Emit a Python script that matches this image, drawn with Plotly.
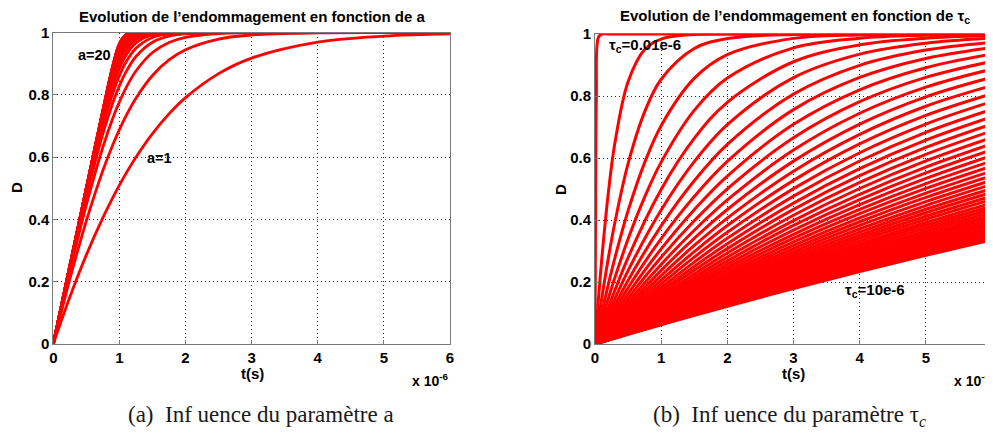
import plotly.graph_objects as go

# ---------------- Panel (a): influence of parameter a (a = 1 ... 20) ----------------
t_a = [0, 0.25, 0.5, 0.75, 0.9, 1.0, 1.1, 1.25, 1.5, 1.75, 2, 2.5, 3, 4, 5, 6]

D_a01 = [0, 0.1506, 0.2860, 0.4057, 0.4702, 0.5101, 0.5477, 0.5997, 0.6754, 0.7387, 0.7909, 0.8681, 0.9179, 0.9690, 0.9885, 0.9958]
D_a02 = [0, 0.2079, 0.3954, 0.5570, 0.6396, 0.6884, 0.7324, 0.7892, 0.8619, 0.9118, 0.9447, 0.9789, 0.9921, 0.9989, 0.9999, 1.0]
D_a03 = [0, 0.2320, 0.4467, 0.6325, 0.7249, 0.7773, 0.8224, 0.8764, 0.9359, 0.9682, 0.9846, 0.9965, 0.9992, 1.0, 1.0, 1.0]
D_a04 = [0, 0.2422, 0.4723, 0.6751, 0.7745, 0.8290, 0.8736, 0.9229, 0.9688, 0.9881, 0.9955, 0.9994, 1.0, 1.0, 1.0, 1.0]
D_a05 = [0, 0.2460, 0.4842, 0.6996, 0.8052, 0.8614, 0.9052, 0.9496, 0.9842, 0.9954, 0.9987, 0.9999, 1.0, 1.0, 1.0, 1.0]
D_a06 = [0, 0.2482, 0.4919, 0.7164, 0.8271, 0.8845, 0.9271, 0.9664, 0.9919, 0.9982, 0.9996, 1.0, 1.0, 1.0, 1.0, 1.0]
D_a07 = [0, 0.2493, 0.4958, 0.7271, 0.8424, 0.9010, 0.9424, 0.9771, 0.9958, 0.9993, 1.0, 1.0, 1.0, 1.0, 1.0, 1.0]
D_a08 = [0, 0.2497, 0.4977, 0.7341, 0.8536, 0.9134, 0.9536, 0.9841, 0.9977, 0.9997, 1.0, 1.0, 1.0, 1.0, 1.0, 1.0]
D_a09 = [0, 0.2499, 0.4988, 0.7389, 0.8621, 0.9230, 0.9621, 0.9889, 0.9988, 0.9999, 1.0, 1.0, 1.0, 1.0, 1.0, 1.0]
D_a10 = [0, 0.2499, 0.4993, 0.7421, 0.8687, 0.9307, 0.9687, 0.9921, 0.9993, 1.0, 1.0, 1.0, 1.0, 1.0, 1.0, 1.0]
D_a11 = [0, 0.2500, 0.4996, 0.7444, 0.8739, 0.9370, 0.9739, 0.9944, 0.9996, 1.0, 1.0, 1.0, 1.0, 1.0, 1.0, 1.0]
D_a12 = [0, 0.2500, 0.4998, 0.7459, 0.8781, 0.9422, 0.9781, 0.9959, 0.9998, 1.0, 1.0, 1.0, 1.0, 1.0, 1.0, 1.0]
D_a13 = [0, 0.2500, 0.4999, 0.7471, 0.8815, 0.9467, 0.9815, 0.9971, 0.9999, 1.0, 1.0, 1.0, 1.0, 1.0, 1.0, 1.0]
D_a14 = [0, 0.2500, 0.4999, 0.7479, 0.8843, 0.9505, 0.9843, 0.9979, 1.0, 1.0, 1.0, 1.0, 1.0, 1.0, 1.0, 1.0]
D_a15 = [0, 0.2500, 0.5000, 0.7485, 0.8866, 0.9538, 0.9866, 0.9985, 1.0, 1.0, 1.0, 1.0, 1.0, 1.0, 1.0, 1.0]
D_a16 = [0, 0.2500, 0.5000, 0.7489, 0.8885, 0.9567, 0.9885, 0.9989, 1.0, 1.0, 1.0, 1.0, 1.0, 1.0, 1.0, 1.0]
D_a17 = [0, 0.2500, 0.5000, 0.7492, 0.8901, 0.9592, 0.9901, 0.9992, 1.0, 1.0, 1.0, 1.0, 1.0, 1.0, 1.0, 1.0]
D_a18 = [0, 0.2500, 0.5000, 0.7494, 0.8915, 0.9615, 0.9915, 0.9994, 1.0, 1.0, 1.0, 1.0, 1.0, 1.0, 1.0, 1.0]
D_a19 = [0, 0.2500, 0.5000, 0.7495, 0.8927, 0.9635, 0.9927, 0.9996, 1.0, 1.0, 1.0, 1.0, 1.0, 1.0, 1.0, 1.0]
D_a20 = [0, 0.2500, 0.5000, 0.7497, 0.8937, 0.9653, 0.9937, 0.9998, 1.0, 1.0, 1.0, 1.0, 1.0, 1.0, 1.0, 1.0]

curves_a = [D_a01, D_a02, D_a03, D_a04, D_a05, D_a06, D_a07, D_a08, D_a09, D_a10,
            D_a11, D_a12, D_a13, D_a14, D_a15, D_a16, D_a17, D_a18, D_a19, D_a20]

# ---------------- Panel (b): influence of tau_c (0.01e-6 ... 10e-6) ----------------
t_fine = [0, 0.01, 0.02, 0.05, 0.1, 0.2, 0.3, 0.5, 0.75, 1, 1.5, 2, 3, 4, 5, 6]
D_tau00 = [0, 0.5101, 0.7909, 0.9885, 1.0, 1.0, 1.0, 1.0, 1.0, 1.0, 1.0, 1.0, 1.0, 1.0, 1.0, 1.0]
D_tau01 = [0, 0.0293, 0.0580, 0.1410, 0.2690, 0.4842, 0.6474, 0.8459, 0.9497, 0.9837, 0.9984, 0.9999, 1.0, 1.0, 1.0, 1.0]
D_tau02 = [0, 0.0150, 0.0300, 0.0738, 0.1442, 0.2749, 0.3911, 0.5817, 0.7489, 0.8541, 0.9534, 0.9853, 0.9987, 0.9999, 1.0, 1.0]
D_tau03 = [0, 0.0101, 0.0202, 0.0499, 0.0984, 0.1908, 0.2769, 0.4297, 0.5851, 0.7044, 0.8567, 0.9332, 0.9859, 0.9969, 0.9994, 0.9999]
D_tau04 = [0, 0.0076, 0.0152, 0.0377, 0.0746, 0.1459, 0.2136, 0.3385, 0.4736, 0.5867, 0.7536, 0.8579, 0.9553, 0.9862, 0.9959, 0.9988]
curves_tau_fine = [D_tau00, D_tau01, D_tau02, D_tau03, D_tau04]

t_coarse = [0, 0.5, 1, 1.5, 2, 3, 4, 5, 6]
D_tau05 = [0, 0.2785, 0.4987, 0.6631, 0.7797, 0.9105, 0.9651, 0.9864, 0.9948]
D_tau06 = [0, 0.2365, 0.4324, 0.5882, 0.7076, 0.8591, 0.9350, 0.9703, 0.9865]
D_tau07 = [0, 0.2052, 0.3810, 0.5266, 0.6441, 0.8061, 0.8989, 0.9482, 0.9732]
D_tau08 = [0, 0.1815, 0.3402, 0.4758, 0.5891, 0.7560, 0.8598, 0.9212, 0.9563]
D_tau09 = [0, 0.1623, 0.3069, 0.4334, 0.5417, 0.7087, 0.8201, 0.8913, 0.9355]
D_tau10 = [0, 0.1469, 0.2798, 0.3974, 0.5006, 0.6652, 0.7816, 0.8601, 0.9117]
D_tau11 = [0, 0.1343, 0.2567, 0.3669, 0.4650, 0.6257, 0.7444, 0.8286, 0.8865]
D_tau12 = [0, 0.1237, 0.2374, 0.3408, 0.4338, 0.5899, 0.7092, 0.7971, 0.8604]
D_tau13 = [0, 0.1145, 0.2205, 0.3178, 0.4062, 0.5574, 0.6763, 0.7669, 0.8338]
D_tau14 = [0, 0.1065, 0.2058, 0.2978, 0.3821, 0.5279, 0.6456, 0.7375, 0.8074]
D_tau15 = [0, 0.0996, 0.1931, 0.2802, 0.3603, 0.5012, 0.6170, 0.7095, 0.7822]
D_tau16 = [0, 0.0935, 0.1820, 0.2642, 0.3411, 0.4769, 0.5903, 0.6829, 0.7572]
D_tau17 = [0, 0.0881, 0.1719, 0.2502, 0.3235, 0.4546, 0.5656, 0.6577, 0.7330]
D_tau18 = [0, 0.0834, 0.1628, 0.2377, 0.3077, 0.4343, 0.5428, 0.6340, 0.7098]
D_tau19 = [0, 0.0791, 0.1546, 0.2261, 0.2935, 0.4155, 0.5214, 0.6117, 0.6874]
D_tau20 = [0, 0.0753, 0.1472, 0.2156, 0.2804, 0.3982, 0.5016, 0.5906, 0.6662]
D_tau21 = [0, 0.0719, 0.1406, 0.2060, 0.2682, 0.3826, 0.4830, 0.5706, 0.6461]
D_tau22 = [0, 0.0687, 0.1346, 0.1974, 0.2572, 0.3676, 0.4659, 0.5520, 0.6266]
D_tau23 = [0, 0.0658, 0.1290, 0.1894, 0.2471, 0.3539, 0.4495, 0.5342, 0.6082]
D_tau24 = [0, 0.0632, 0.1240, 0.1821, 0.2378, 0.3414, 0.4345, 0.5175, 0.5907]
D_tau25 = [0, 0.0607, 0.1192, 0.1753, 0.2291, 0.3295, 0.4203, 0.5018, 0.5741]
D_tau26 = [0, 0.0584, 0.1147, 0.1688, 0.2209, 0.3183, 0.4068, 0.4868, 0.5582]
D_tau27 = [0, 0.0563, 0.1105, 0.1629, 0.2133, 0.3079, 0.3943, 0.4729, 0.5432]
D_tau28 = [0, 0.0543, 0.1067, 0.1573, 0.2061, 0.2983, 0.3828, 0.4593, 0.5286]
D_tau29 = [0, 0.0525, 0.1031, 0.1522, 0.1996, 0.2893, 0.3714, 0.4466, 0.5150]
D_tau30 = [0, 0.0507, 0.0997, 0.1473, 0.1934, 0.2806, 0.3608, 0.4346, 0.5019]
D_tau31 = [0, 0.0491, 0.0966, 0.1429, 0.1876, 0.2724, 0.3509, 0.4233, 0.4893]
D_tau32 = [0, 0.0476, 0.0936, 0.1386, 0.1822, 0.2646, 0.3416, 0.4122, 0.4775]
D_tau33 = [0, 0.0462, 0.0909, 0.1346, 0.1771, 0.2573, 0.3326, 0.4019, 0.4662]
D_tau34 = [0, 0.0448, 0.0883, 0.1309, 0.1721, 0.2505, 0.3239, 0.3921, 0.4551]
D_tau35 = [0, 0.0436, 0.0858, 0.1274, 0.1674, 0.2441, 0.3158, 0.3829, 0.4446]
D_tau36 = [0, 0.0424, 0.0836, 0.1240, 0.1629, 0.2380, 0.3080, 0.3737, 0.4348]
D_tau37 = [0, 0.0412, 0.0813, 0.1209, 0.1588, 0.2322, 0.3007, 0.3650, 0.4252]
D_tau38 = [0, 0.0401, 0.0793, 0.1178, 0.1548, 0.2264, 0.2938, 0.3569, 0.4159]
D_tau39 = [0, 0.0391, 0.0773, 0.1148, 0.1510, 0.2210, 0.2872, 0.3490, 0.4071]
D_tau40 = [0, 0.0381, 0.0754, 0.1120, 0.1474, 0.2158, 0.2807, 0.3417, 0.3986]
D_tau41 = [0, 0.0372, 0.0736, 0.1093, 0.1440, 0.2110, 0.2745, 0.3345, 0.3906]
D_tau42 = [0, 0.0363, 0.0719, 0.1068, 0.1407, 0.2062, 0.2685, 0.3274, 0.3830]
D_tau43 = [0, 0.0355, 0.0703, 0.1043, 0.1377, 0.2018, 0.2629, 0.3207, 0.3753]
D_tau44 = [0, 0.0347, 0.0688, 0.1020, 0.1347, 0.1976, 0.2574, 0.3143, 0.3679]
D_tau45 = [0, 0.0339, 0.0673, 0.0998, 0.1319, 0.1935, 0.2523, 0.3081, 0.3610]
D_tau46 = [0, 0.0332, 0.0659, 0.0977, 0.1291, 0.1896, 0.2474, 0.3022, 0.3543]
D_tau47 = [0, 0.0325, 0.0646, 0.0957, 0.1266, 0.1859, 0.2426, 0.2966, 0.3478]
D_tau48 = [0, 0.0318, 0.0633, 0.0937, 0.1241, 0.1823, 0.2380, 0.2912, 0.3417]
D_tau49 = [0, 0.0313, 0.0620, 0.0922, 0.1217, 0.1789, 0.2337, 0.2860, 0.3358]
curves_tau_coarse = [D_tau05, D_tau06, D_tau07, D_tau08, D_tau09, D_tau10, D_tau11, D_tau12,
                     D_tau13, D_tau14, D_tau15, D_tau16, D_tau17, D_tau18, D_tau19, D_tau20,
                     D_tau21, D_tau22, D_tau23, D_tau24, D_tau25, D_tau26, D_tau27, D_tau28,
                     D_tau29, D_tau30, D_tau31, D_tau32, D_tau33, D_tau34, D_tau35, D_tau36,
                     D_tau37, D_tau38, D_tau39, D_tau40, D_tau41, D_tau42, D_tau43, D_tau44,
                     D_tau45, D_tau46, D_tau47, D_tau48, D_tau49]

x_ticks = [0, 1, 2, 3, 4, 5, 6]
y_ticks = [0, 0.2, 0.4, 0.6, 0.8, 1]
y_tick_text = ["0", "0.2", "0.4", "0.6", "0.8", "1"]

# ---------------- Figure ----------------
# The page body keeps the browser's default 8px margin, so the figure is placed at (8, 8)
# inside the 993x436 window; window pixel positions are converted accordingly.
OFF = 8
W, H = 993 - OFF, 436 - OFF
RED = "#ff0000"
LW_A = 2.8
LW_B = 3.0

fig = go.Figure()
for ys in curves_a:
    fig.add_trace(go.Scatter(x=t_a, y=ys, mode="lines", xaxis="x", yaxis="y",
                             line=dict(color=RED, width=LW_A, shape="spline"),
                             showlegend=False, hoverinfo="skip"))
for ys in curves_tau_fine:
    fig.add_trace(go.Scatter(x=t_fine, y=ys, mode="lines", xaxis="x2", yaxis="y2",
                             line=dict(color=RED, width=LW_B, shape="spline"),
                             showlegend=False, hoverinfo="skip"))
for ys in curves_tau_coarse:
    fig.add_trace(go.Scatter(x=t_coarse, y=ys, mode="lines", xaxis="x2", yaxis="y2",
                             line=dict(color=RED, width=LW_B, shape="spline"),
                             showlegend=False, hoverinfo="skip"))

tickfont = dict(family="Liberation Sans, Arial, sans-serif", size=15, color="black", weight="bold")
axis_common = dict(showline=True, mirror=True, linecolor="#7a7a7a", linewidth=1,
                   ticks="inside", ticklen=4, tickcolor="#7a7a7a",
                   showgrid=True, gridcolor="#2a2a2a", gridwidth=1, griddash="1px,3px",
                   zeroline=False, tickfont=tickfont, fixedrange=True, automargin=False)

def px_x(p):
    return (p - OFF) / W

def px_y(p):
    return 1 - (p - OFF) / H

fig.update_layout(
    width=W, height=H, autosize=False,
    margin=dict(l=0, r=0, t=0, b=0, pad=0),
    paper_bgcolor="white", plot_bgcolor="white",
    xaxis=dict(domain=[px_x(53.3), px_x(450)], range=[0, 6], tickvals=x_ticks,
               anchor="y", **axis_common),
    yaxis=dict(domain=[px_y(344), px_y(32.5)], range=[0, 1], tickvals=y_ticks,
               ticktext=y_tick_text, anchor="x", **axis_common),
    xaxis2=dict(domain=[px_x(595), min(1.0, px_x(992))], range=[0, 6], tickvals=x_ticks,
                anchor="y2", **axis_common),
    yaxis2=dict(domain=[px_y(344), px_y(34)], range=[0, 1], tickvals=y_ticks,
                ticktext=y_tick_text, anchor="x2", **axis_common),
)

bold = dict(family="Liberation Sans, Arial, sans-serif", color="black", weight="bold")
serif = dict(family="Liberation Serif, Times New Roman, serif", color="#1a1a1a", size=23)

annotations = [
    # titles
    dict(text="Evolution de l’endommagement en fonction de a", x=px_x(252), y=px_y(16),
         font=dict(size=15, **bold)),
    dict(text="Evolution de l’endommagement en fonction de τ<sub>c</sub>", x=px_x(795), y=px_y(16.5),
         font=dict(size=15, **bold)),
    # axis labels
    dict(text="D", x=px_x(17), y=px_y(188), textangle=-90, font=dict(size=15, **bold)),
    dict(text="D", x=px_x(560), y=px_y(190), textangle=-90, font=dict(size=15, **bold)),
    dict(text="t(s)", x=px_x(252), y=px_y(373), font=dict(size=15, **bold)),
    dict(text="t(s)", x=px_x(793), y=px_y(373), font=dict(size=15, **bold)),
    dict(text="x 10<sup>-6</sup>", x=px_x(451), y=px_y(380), xanchor="right",
         font=dict(size=14, **bold)),
    dict(text="x 10<sup>-6</sup>", x=px_x(952), y=px_y(380), xanchor="left",
         font=dict(size=14, **bold)),
    # captions
    dict(text="(a)  Inf uence du paramètre a", x=px_x(261), y=px_y(414), font=serif),
    dict(text="(b)  Inf uence du paramètre τ<sub><i>c</i></sub>", x=px_x(789), y=px_y(416), font=serif),
]
for a in annotations:
    a.setdefault("xref", "paper")
    a.setdefault("yref", "paper")
    a.setdefault("xanchor", "center")
    a.setdefault("yanchor", "middle")
    a["showarrow"] = False

# in-plot labels (data coordinates)
annotations += [
    dict(text="a=20", x=0.62, y=0.928, xref="x", yref="y", showarrow=False,
         font=dict(size=14.5, **bold)),
    dict(text="a=1", x=1.60, y=0.597, xref="x", yref="y", showarrow=False,
         font=dict(size=14.5, **bold)),
    dict(text="τ<sub>c</sub>=0.01e-6", x=0.76, y=0.962, xref="x2", yref="y2", showarrow=False,
         font=dict(size=15, **bold)),
    dict(text="τ<sub>c</sub>=10e-6", x=4.23, y=0.172, xref="x2", yref="y2", showarrow=False,
         font=dict(size=15, **bold)),
]
fig.update_layout(annotations=annotations)

fig.write_html("out.html")
